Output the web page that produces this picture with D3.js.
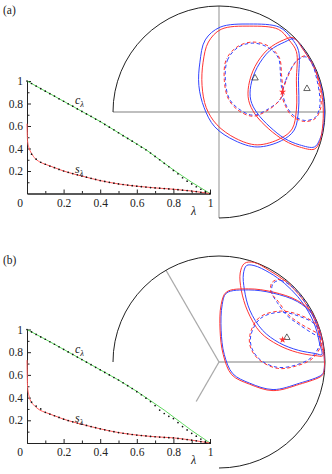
<!DOCTYPE html>
<html><head><meta charset="utf-8">
<script src="https://cdn.jsdelivr.net/npm/d3@7"></script>
<style>
body{margin:0;background:#fff}
svg{display:block}
text{font-family:"Liberation Serif","DejaVu Serif",serif;fill:#222}
</style>
</head><body>
<svg id="chart" width="332" height="474"></svg>
<script>
// ---------- line-plot data ----------
const LAMBDA_C = [0,0.05,0.1,0.15,0.2,0.25,0.3,0.35,0.4,0.45,0.5,0.55,0.6,0.65,0.7,0.75,0.8,0.85,0.9,0.95,1];
const C_LINE_A = [1,0.955,0.91,0.865,0.82,0.775,0.73,0.685,0.64,0.59,0.54,0.49,0.44,0.39,0.33,0.27,0.21,0.155,0.1,0.05,0];
const C_LINE_B = [1,0.957,0.914,0.87,0.825,0.78,0.735,0.69,0.645,0.6,0.555,0.505,0.455,0.4,0.345,0.29,0.23,0.17,0.11,0.055,0];

const LAMBDA_S = [0,0.003,0.01,0.02,0.04,0.07,0.1,0.15,0.2,0.3,0.4,0.5,0.6,0.7,0.8,0.9,1.0];
const S_LINE_A = [0.62,0.47,0.41,0.37,0.32,0.28,0.26,0.23,0.2,0.155,0.115,0.085,0.065,0.05,0.038,0.022,0];
const S_LINE_B = [0.73,0.5,0.42,0.37,0.33,0.29,0.27,0.24,0.21,0.165,0.125,0.092,0.07,0.055,0.045,0.025,0];

const LAMBDA_DOTS = [0,0.025,0.05,0.075,0.1,0.125,0.15,0.175,0.2,0.225,0.25,0.275,0.3,0.325,0.35,0.375,0.4,0.425,0.45,0.475,0.5,0.525,0.55,0.575,0.6,0.625,0.65,0.675,0.7,0.725,0.75,0.775,0.8,0.825,0.85,0.875,0.9,0.925,0.95,0.975,1];
const C_DOTS_A = [1.0,0.978,0.955,0.932,0.91,0.887,0.866,0.842,0.82,0.797,0.776,0.752,0.73,0.707,0.686,0.662,0.64,0.614,0.59,0.566,0.54,0.514,0.49,0.465,0.44,0.413,0.388,0.36,0.33,0.30,0.268,0.238,0.205,0.175,0.14,0.11,0.085,0.06,0.038,0.018,0];
const C_DOTS_B = [1.0,0.979,0.957,0.935,0.914,0.892,0.87,0.847,0.825,0.802,0.78,0.757,0.735,0.712,0.69,0.667,0.645,0.622,0.6,0.577,0.555,0.53,0.505,0.48,0.452,0.425,0.395,0.365,0.33,0.29,0.26,0.235,0.215,0.18,0.145,0.115,0.085,0.06,0.035,0.015,0];
const S_DOTS_A = [null,0.35,0.305,0.278,0.26,0.244,0.23,0.214,0.2,0.188,0.177,0.166,0.155,0.145,0.135,0.125,0.115,0.107,0.099,0.092,0.085,0.08,0.075,0.07,0.065,0.061,0.057,0.053,0.05,0.047,0.044,0.041,0.038,0.034,0.03,0.026,0.022,0.017,0.011,0.006,0];
const S_DOTS_B = [null,0.36,0.325,0.3,0.27,0.255,0.24,0.225,0.21,0.198,0.187,0.176,0.165,0.155,0.145,0.135,0.125,0.116,0.108,0.1,0.092,0.086,0.081,0.075,0.07,0.066,0.062,0.058,0.055,0.052,0.049,0.047,0.045,0.04,0.035,0.03,0.025,0.019,0.012,0.006,0];

const Y_TICKS = [0.2,0.4,0.6,0.8,1];
const Y_MINOR = [0.1,0.3,0.5,0.7,0.9];
const X_TICKS = [0.2,0.4,0.6,0.8,1];
const X_MINOR = [0.1,0.3,0.5,0.7,0.9];

// ---------- disk data (unit disk radius = 100, y up) ----------
const SPOKES_A = [{angle:0,len:100},{angle:90,len:100},{angle:180,len:100},{angle:270,len:100}];
const SPOKES_B = [{angle:0,len:100},{angle:120,len:100},{angle:240,len:43}];

const A_LOOP1_BLUE = [[-19,25],[-18,47],[-13,68],[1,80],[29,83],[57,80],[68,70],[75,58],[75,30],[75,2],[71,-17],[59,-27],[36,-33],[15,-27],[-4,-14],[-14,4]];
const A_LOOP1_RED  = [[-16,25],[-15,47],[-10,66],[2,78],[29,81],[56,78],[66,68],[73,57],[73,30],[73,2],[69,-16],[58,-25],[36,-31],[16,-25],[-2,-12],[-12,4]];
const A_LOOP2_BLUE = [[99,-10],[99,9],[96,26],[90,42],[81,57],[71,69],[62,66],[48,58],[36,42],[30,25],[30,11],[36,-1],[48,-14],[62,-25],[76,-31],[90,-33],[95,-26]];
const A_LOOP2_RED  = [[98,-11],[98,9],[95,27],[89,43],[80,58],[70,70],[61,68],[46,59],[34,43],[28,25],[28,11],[34,-2],[47,-16],[62,-27],[76,-33],[90,-35],[95,-28]];
const A_DASH1_BLUE = [[6,30],[8,49],[18,61],[32,65],[46,61],[56,51],[58,35],[59,23],[60,19],[58,12],[45,2],[32,-3],[20,2],[10,12]];
const A_DASH1_RED  = [[5,30],[7,50],[18,62],[32,66],[47,62],[57,51],[59,35],[60,23],[60,19],[57,11],[45,1],[32,-4],[19,1],[9,12]];
const A_DASH2_BLUE = [[60,19],[63,30],[68,41],[74,49],[82,52],[88,45],[92,32],[95,15],[95,5],[91,-5],[81,-8],[70,-3],[64,5],[61,13]];
const A_DASH2_RED  = [[60,19],[64,31],[69,42],[75,50],[82,53],[89,46],[93,32],[96,15],[96,4],[91,-6],[81,-9],[69,-4],[63,5],[60,13]];
const A_STARS = [[60,19]];
const A_TRIANGLES = [[34,32],[83,22]];

const B_LOOP1_BLUE = [[33,91],[48,84],[62,74],[74,62],[84,48],[91,33],[95,17],[97,7],[91,8],[75,11],[57,18],[41,30],[29,49],[24,68],[23,83],[26,91]];
const B_LOOP1_RED  = [[33,94],[48,86],[63,76],[75,64],[85,50],[92,35],[96,18],[98,6],[91,6],[74,9],[56,16],[39,28],[27,48],[21,68],[20,84],[24,93]];
const B_LOOP2_BLUE = [[7,65],[28,68],[51,65],[74,57],[88,45],[96,27],[99,9],[99,-8],[97,-12],[76,-20],[51,-26],[29,-20],[13,-11],[5,7],[2,30],[3,54]];
const B_LOOP2_RED  = [[7,66],[28,69],[51,66],[74,58],[88,46],[96,27],[99,9],[99,-9],[97,-13],[76,-21],[51,-27],[29,-21],[12,-12],[4,7],[1,30],[2,54]];
const B_DASH1_BLUE = [[51,74],[58,77],[69,71],[78,61],[86,49],[93,34],[96,24],[92,25],[76,35],[64,44],[55,56],[50,65]];
const B_DASH1_RED  = [[50,75],[58,78],[70,72],[79,62],[87,50],[94,35],[97,24],[93,27],[77,36],[65,45],[56,57],[49,66]];
const B_DASH2_BLUE = [[30,25],[39,41],[58,47],[76,43],[91,35],[96,21],[88,5],[72,-3],[55,-5],[39,2],[31,13]];
const B_DASH2_RED  = [[29,25],[38,42],[58,48],[77,44],[92,35],[97,20],[89,4],[72,-4],[55,-6],[38,2],[30,13]];
const B_STARS = [[60,21]];
const B_TRIANGLES = [[64,23]];

// ---------- styles ----------
const BLUE = "#3344ff", RED = "#ff3333", GREEN = "#5fd95f", SRED = "#ff5a5a";

const svg = d3.select("#chart");
const x = d3.scaleLinear().domain([0,1]).range([27,210]);

const panels = [
  {label:"(a)", labelY:14, yRange:[193.5,81], cx:219, cy:112, r:106,
   cLine:C_LINE_A, sLine:S_LINE_A, cDots:C_DOTS_A, sDots:S_DOTS_A,
   cLab:[75,104], sLab:[75,173], lamLab:[191,215],
   spokes:SPOKES_A,
   solid:[[A_LOOP1_BLUE,BLUE],[A_LOOP1_RED,RED],[A_LOOP2_BLUE,BLUE],[A_LOOP2_RED,RED]],
   dashed:[[A_DASH1_BLUE,BLUE,0],[A_DASH1_RED,RED,3],[A_DASH2_BLUE,BLUE,0],[A_DASH2_RED,RED,3]],
   stars:A_STARS, tris:A_TRIANGLES},
  {label:"(b)", labelY:264, yRange:[443,329.5], cx:219, cy:362, r:106,
   cLine:C_LINE_B, sLine:S_LINE_B, cDots:C_DOTS_B, sDots:S_DOTS_B,
   cLab:[75,353], sLab:[75,422], lamLab:[191,464],
   spokes:SPOKES_B,
   solid:[[B_LOOP1_BLUE,BLUE],[B_LOOP1_RED,RED],[B_LOOP2_BLUE,BLUE],[B_LOOP2_RED,RED]],
   dashed:[[B_DASH1_BLUE,BLUE,0],[B_DASH1_RED,RED,3],[B_DASH2_BLUE,BLUE,0],[B_DASH2_RED,RED,3]],
   stars:B_STARS, tris:B_TRIANGLES}
];

panels.forEach((p, i) => {
  const g = svg.append("g");
  g.append("text").attr("x",3).attr("y",p.labelY).attr("font-size",11.5).text(p.label);

  // ---- disk ----
  const dx = d3.scaleLinear().domain([-100,100]).range([p.cx-p.r, p.cx+p.r]);
  const dy = d3.scaleLinear().domain([-100,100]).range([p.cy+p.r, p.cy-p.r]);
  const R = dx(100) - dx(0);
  const dg = g.append("g");
  dg.selectAll("line.spoke").data(p.spokes).join("line")
    .attr("x1", dx(0)).attr("y1", dy(0))
    .attr("x2", d => dx(d.len*Math.cos(d.angle*Math.PI/180)))
    .attr("y2", d => dy(d.len*Math.sin(d.angle*Math.PI/180)))
    .attr("stroke","#aaa").attr("stroke-width",1.3);
  const arc = d3.path();
  arc.arc(dx(0), dy(0), R, Math.PI, 2.5*Math.PI, false);
  dg.append("path").attr("d", arc.toString()).attr("fill","none").attr("stroke","#222").attr("stroke-width",1);

  const clipId = "clip"+i;
  g.append("clipPath").attr("id",clipId).append("circle").attr("cx",dx(0)).attr("cy",dy(0)).attr("r",R);
  const cg = dg.append("g").attr("clip-path",`url(#${clipId})`);
  const loop = d3.line().x(d=>dx(d[0])).y(d=>dy(d[1])).curve(d3.curveCatmullRomClosed.alpha(0.5));
  p.solid.forEach(([pts,col]) => {
    cg.append("path").attr("d", loop(pts)).attr("fill","none").attr("stroke",col).attr("stroke-width",1);
  });
  p.dashed.forEach(([pts,col,off]) => {
    cg.append("path").attr("d", loop(pts)).attr("fill","none").attr("stroke",col).attr("stroke-width",1)
      .attr("stroke-dasharray","3.5 2.5").attr("stroke-dashoffset",off);
  });
  dg.selectAll("path.tri").data(p.tris).join("path")
    .attr("d", d3.symbol(d3.symbolTriangle, 18)())
    .attr("transform", d => `translate(${dx(d[0])},${dy(d[1])})`)
    .attr("fill","none").attr("stroke","#222").attr("stroke-width",0.7);
  dg.selectAll("path.star").data(p.stars).join("path")
    .attr("d", d3.symbol(d3.symbolStar, 16)())
    .attr("transform", d => `translate(${dx(d[0])},${dy(d[1])})`)
    .attr("fill",RED);

  // ---- line plot ----
  const y = d3.scaleLinear().domain([0,1]).range(p.yRange);
  const lg = g.append("g");
  const yAxis = lg.append("g").attr("transform",`translate(${x(0)},0)`)
    .call(d3.axisLeft(y).tickValues(Y_TICKS).tickSizeInner(-4).tickSizeOuter(0).tickPadding(4).tickFormat(d3.format("")));
  const yMinor = lg.append("g").attr("transform",`translate(${x(0)},0)`)
    .call(d3.axisLeft(y).tickValues(Y_MINOR).tickSizeInner(-2.5).tickSizeOuter(0).tickFormat(""));
  const xAxis = lg.append("g").attr("transform",`translate(0,${y(0)})`)
    .call(d3.axisBottom(x).tickValues(X_TICKS).tickSizeInner(-4).tickSizeOuter(0).tickPadding(5).tickFormat(d3.format("")));
  const xMinor = lg.append("g").attr("transform",`translate(0,${y(0)})`)
    .call(d3.axisBottom(x).tickValues(X_MINOR).tickSizeInner(-2.5).tickSizeOuter(0).tickFormat(""));
  [yAxis,yMinor,xAxis,xMinor].forEach(a => {
    a.selectAll("text").attr("font-size",11.5).attr("font-family","Liberation Serif, serif").attr("fill","#222");
    a.selectAll("path,line").attr("stroke","#222");
  });
  lg.append("text").attr("x", x(0)-7).attr("y", y(0)+13).attr("text-anchor","middle").attr("font-size",11.5).text("0");

  const cl = d3.line().x((d,j)=>x(LAMBDA_C[j])).y(d=>y(d));
  lg.append("path").attr("d", cl(p.cLine)).attr("fill","none").attr("stroke",GREEN).attr("stroke-width",1);
  const sl = d3.line().x((d,j)=>x(LAMBDA_S[j])).y(d=>y(d)).curve(d3.curveMonotoneX);
  lg.append("path").attr("d", sl(p.sLine)).attr("fill","none").attr("stroke",SRED).attr("stroke-width",1);

  const cd = p.cDots.map((v,j)=>[LAMBDA_DOTS[j],v]);
  const sd = p.sDots.map((v,j)=>[LAMBDA_DOTS[j],v]).filter(d=>d[1]!==null);
  lg.selectAll("circle.cd").data(cd.concat(sd)).join("circle")
    .attr("cx", d=>x(d[0])).attr("cy", d=>y(d[1])).attr("r",0.85).attr("fill","#111");

  const lab = (pos, ch) => {
    const t = lg.append("text").attr("x",pos[0]).attr("y",pos[1]).attr("font-size",12);
    t.append("tspan").attr("font-style","italic").text(ch);
    t.append("tspan").attr("font-size",8.5).attr("dy",2.5).attr("font-style","italic").text("λ");
  };
  lab(p.cLab, "c");
  lab(p.sLab, "s");
  lg.append("text").attr("x",p.lamLab[0]).attr("y",p.lamLab[1]).attr("font-size",12).attr("font-style","italic").text("λ");
});
</script>
</body></html>
